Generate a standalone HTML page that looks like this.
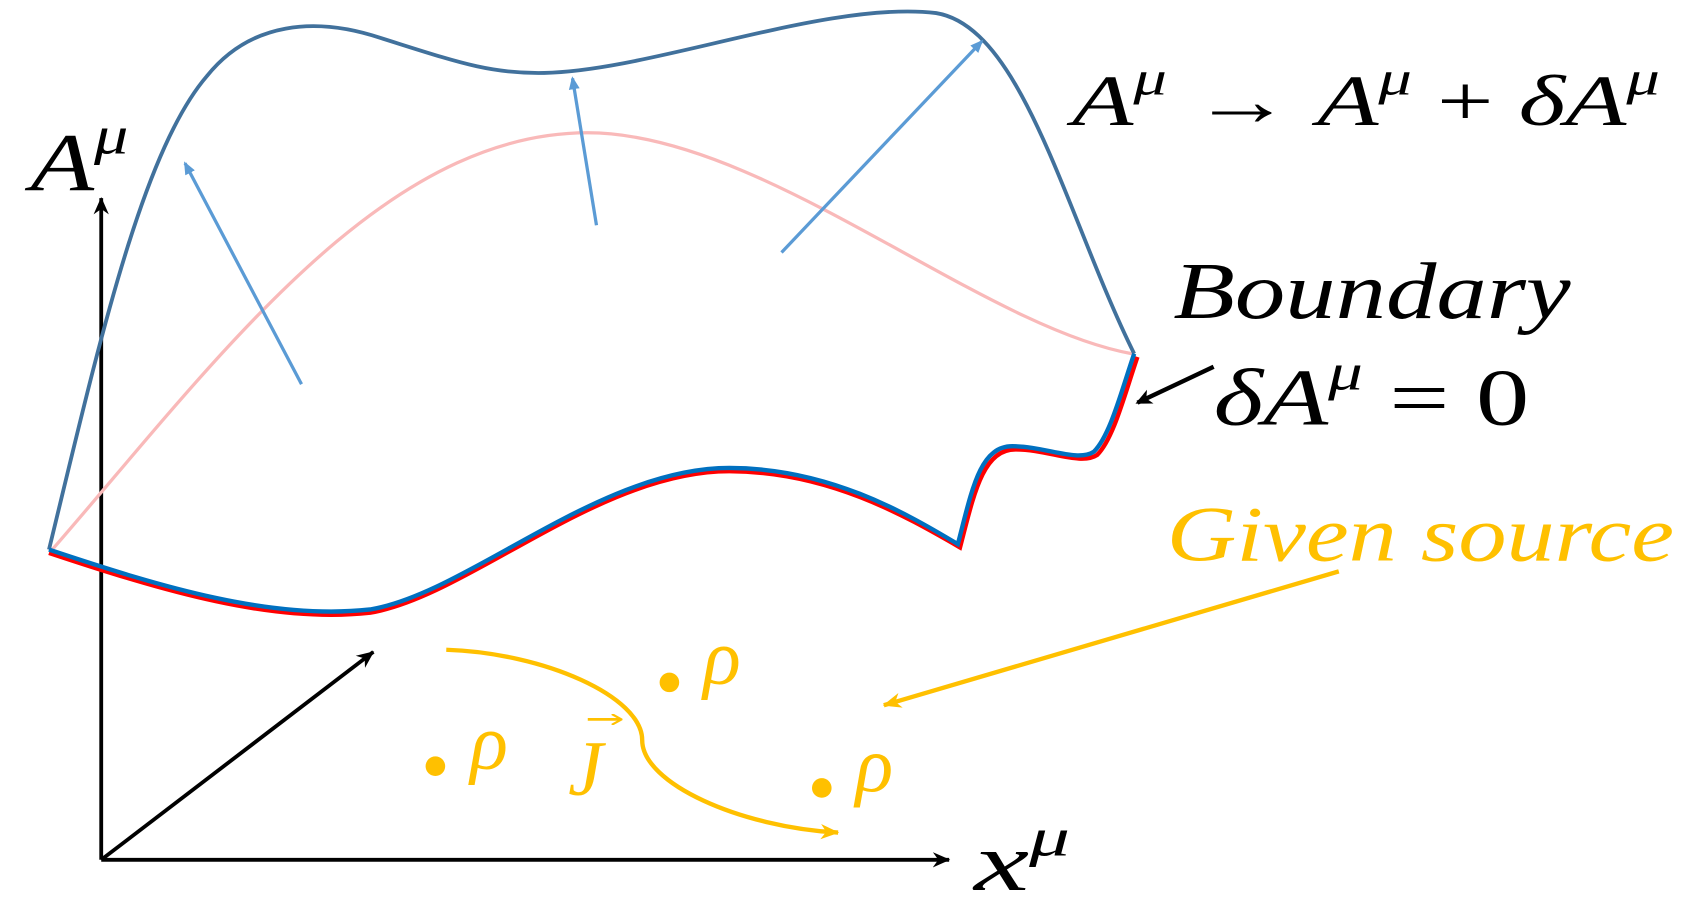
<!DOCTYPE html>
<html><head><meta charset="utf-8"><style>
html,body{margin:0;padding:0;background:#fff;overflow:hidden}
svg{display:block}
text{font-family:"Liberation Serif","DejaVu Serif",serif;font-style:italic}
</style></head><body>
<svg width="1698" height="924" viewBox="0 0 1560 849" preserveAspectRatio="none" xmlns="http://www.w3.org/2000/svg">
<defs>
<marker id="ab" markerWidth="18" markerHeight="16" refX="15" refY="8" orient="auto" markerUnits="userSpaceOnUse"><path d="M0,1 L16,8 L0,15 L5,8 Z" fill="#000"/></marker>
<marker id="abk" markerWidth="16" markerHeight="16" refX="13" refY="8" orient="auto" markerUnits="userSpaceOnUse"><path d="M0,1 L15,8 L0,15 L4,8 Z" fill="#000"/></marker>
<marker id="ablue" markerWidth="12" markerHeight="12" refX="10" refY="6" orient="auto" markerUnits="userSpaceOnUse"><path d="M0,1 L12,6 L0,11 Z" fill="#5b9bd5"/></marker>
<marker id="aor" markerWidth="18" markerHeight="16" refX="16" refY="8" orient="auto" markerUnits="userSpaceOnUse"><path d="M0,1 L17,8 L0,15 L5,8 Z" fill="#ffc000"/></marker>
<marker id="aorsm" markerWidth="10" markerHeight="10" refX="8" refY="5" orient="auto" markerUnits="userSpaceOnUse"><path d="M0,0 L9,5 L0,10" fill="none" stroke="#ffc000" stroke-width="2"/></marker>
</defs>
<g stroke="#000" stroke-width="3.5" fill="none">
<line x1="93" y1="790" x2="93" y2="182" marker-end="url(#ab)"/>
<line x1="93" y1="790" x2="872" y2="790" marker-end="url(#ab)"/>
<line x1="93" y1="790" x2="343" y2="599" marker-end="url(#ab)"/>
</g>
<path d="M48,505 C200,330 350,122 540,122 C700,122 900,300 1040,325" fill="none" stroke="#f9b9b9" stroke-width="3"/>
<path d="M45,505 C90,320 130,140 190,70 C230,20 290,15 350,35 C420,57 450,68 500,67 C600,65 760,0 860,12 C940,25 980,200 1042,325" fill="none" stroke="#41719c" stroke-width="3.5"/>
<path d="M45,508 C150,543 250,573 340,563 C430,548 550,433 670,433 C760,433 830,473 882,503 C895,453 903,413 933,413 C963,413 993,428 1008,418 C1023,403 1033,363 1045,328" fill="none" stroke="#ff0000" stroke-width="4"/>
<path d="M45,505 C150,540 250,570 340,560 C430,545 550,430 670,430 C760,430 830,470 880,500 C893,450 900,410 930,410 C960,410 990,425 1005,415 C1020,400 1030,360 1042,325" fill="none" stroke="#0070c0" stroke-width="4"/>
<g stroke="#5b9bd5" stroke-width="3" fill="none">
<line x1="277" y1="353" x2="170" y2="150" marker-end="url(#ablue)"/>
<line x1="548" y1="207" x2="526" y2="72" marker-end="url(#ablue)"/>
<line x1="718" y1="232" x2="902" y2="38" marker-end="url(#ablue)"/>
</g>
<line x1="1115" y1="337" x2="1045" y2="370" stroke="#000" stroke-width="4" marker-end="url(#abk)"/>
<line x1="1230" y1="525" x2="812" y2="648" stroke="#ffc000" stroke-width="4" marker-end="url(#aor)"/>
<path d="M410,597 C500,600 590,640 590,680 C590,720 680,760 770,765" fill="none" stroke="#ffc000" stroke-width="4" marker-end="url(#aor)"/>
<circle cx="400" cy="704" r="9" fill="#ffc000"/>
<circle cx="615" cy="627" r="9" fill="#ffc000"/>
<circle cx="755" cy="724" r="9" fill="#ffc000"/>
<g fill="#ffc000" font-size="72">
<text x="432" y="706">ρ</text>
<text x="646" y="628">ρ</text>
<text x="786" y="727">ρ</text>
<text x="522" y="730" font-size="72">J</text>
<text x="1072" y="515" font-size="72" textLength="466" lengthAdjust="spacingAndGlyphs">Given source</text>
</g>
<line x1="540" y1="661" x2="570" y2="661" stroke="#ffc000" stroke-width="2.5" marker-end="url(#aorsm)"/>
<g fill="#000">
<text x="28" y="175" font-size="76" textLength="90" lengthAdjust="spacingAndGlyphs">A<tspan font-size="50" dy="-34">μ</tspan></text>
<text x="895" y="818" font-size="76" textLength="88" lengthAdjust="spacingAndGlyphs">x<tspan font-size="50" dy="-32">μ</tspan></text>
<text x="985" y="115" font-size="66" textLength="540" lengthAdjust="spacingAndGlyphs">A<tspan font-size="44" dy="-28">μ</tspan><tspan dy="28" font-style="normal"> → </tspan>A<tspan font-size="44" dy="-28">μ</tspan><tspan dy="28" font-style="normal"> + </tspan>δA<tspan font-size="44" dy="-28">μ</tspan></text>
<text x="1078" y="292" font-size="74" textLength="365" lengthAdjust="spacingAndGlyphs">Boundary</text>
<text x="1115" y="390" font-size="74" textLength="290" lengthAdjust="spacingAndGlyphs">δA<tspan font-size="48" dy="-32">μ</tspan><tspan dy="32" font-style="normal"> = 0</tspan></text>
</g>
</svg>
</body></html>
